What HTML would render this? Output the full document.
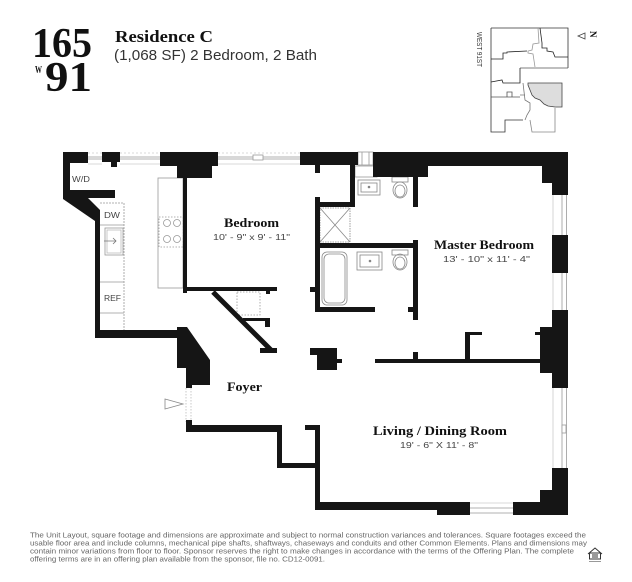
<!DOCTYPE html>
<html><head><meta charset="utf-8"><style>
html,body{margin:0;padding:0;background:#fff;}
svg{display:block;}
</style></head><body>
<svg width="632" height="582" viewBox="0 0 632 582" xmlns="http://www.w3.org/2000/svg">
<rect width="632" height="582" fill="#fff"/>

<!-- Logo -->
<g font-family="'Liberation Serif',serif" font-weight="bold" fill="#111">
<text x="32" y="57" font-size="42" textLength="60" lengthAdjust="spacingAndGlyphs">165</text>
<text x="45" y="91" font-size="42" textLength="47" lengthAdjust="spacingAndGlyphs">91</text>
<text x="35" y="73" font-size="11" textLength="7" lengthAdjust="spacingAndGlyphs">W</text>
<text x="115" y="42" font-size="17" textLength="98" lengthAdjust="spacingAndGlyphs">Residence C</text>
</g>
<text x="114" y="60" font-family="'Liberation Sans',sans-serif" font-size="15" fill="#333" textLength="203" lengthAdjust="spacingAndGlyphs">(1,068 SF) 2 Bedroom, 2 Bath</text>

<!-- Key map -->
<g fill="none" stroke-width="0.8">
<path d="M491,28 H568 V68" stroke="#333"/>
<path d="M491,28 V132 H505 V120 H523" stroke="#333"/>
<path d="M538,28 L539,43 L533,44 L532,50 L528,51 L528,53 L533,54 L535,67" stroke="#999"/>
<path d="M491,59 H503 V53 H507 V52 L527,51" stroke="#222"/>
<path d="M540,28 L542,43 V48 H547 V51 L553,52 L555,57 H568" stroke="#222"/>
<path d="M520,68 H568" stroke="#555"/>
<path d="M520,68 V83 H503 L502,80 L491,82" stroke="#222"/>
<path d="M528,83 H562 V107 H555 L548,106 L544,104 L540,100 L535,98 L532,95 L530,90 L528,85 Z" fill="#ddd" stroke="#444"/>
<path d="M491,97 H520 M507,97 V92 H512 V97" stroke="#555"/>
<path d="M520,95 H525 M523,83 L525,100 L530,103 V110 L527,115 L525,120" stroke="#777"/>
<path d="M530,120 L532,132 H555 V108" stroke="#888"/>
</g>
<text transform="translate(477,32) rotate(90)" font-family="'Liberation Sans',sans-serif" font-size="7" fill="#333" textLength="35" lengthAdjust="spacingAndGlyphs">WEST 91ST</text>
<polygon points="578,36 585,33 585,39" fill="none" stroke="#444" stroke-width="0.8"/>
<text transform="translate(590,31) rotate(90)" font-family="'Liberation Serif',serif" font-weight="bold" font-size="9" fill="#111">N</text>

<!-- Windows (gray lines) -->
<g stroke="#999" stroke-width="0.8" fill="none">
<path d="M88,153 H102 M120,153 H160 M218,153 H300" stroke="#ccc" stroke-dasharray="2,2"/>
<path d="M88,157 H102 M120,157 H160 M218,157 H300"/>
<path d="M88,159 H102 M120,159 H160 M218,159 H300"/>
<path d="M88,164 H102 M120,164 H160 M218,164 H300" stroke="#ccc"/>
<rect x="253" y="155" width="10" height="5" fill="#fff"/>
<rect x="358" y="152" width="15" height="13"/>
<path d="M362,152 V165 M369,152 V165"/>
<rect x="355" y="166" width="22" height="11"/>
<path d="M553,195 V235 M553,273 V310 M553,388 V468" stroke="#ccc"/>
<path d="M562,195 V235 M562,273 V310 M562,388 V468"/>
<path d="M566.5,195 V235 M566.5,273 V310 M566.5,388 V468"/>
<rect x="562" y="425" width="4" height="8" fill="#fff"/>
<path d="M470,503 H513" stroke="#ccc"/>
<path d="M470,508 H513 M470,513 H513"/>
</g>

<!-- Kitchen -->
<g stroke="#999" stroke-width="0.8" fill="none">
<path d="M100,203 H124 V330" stroke-dasharray="2,1"/>
<path d="M100,225 H124 M100,282 H124 M100,313 H124"/>
<rect x="105" y="228" width="18" height="27"/>
<rect x="107" y="230" width="14" height="23" stroke="#bbb"/>
<path d="M104,241 H116 M113,238 L116,241 L113,244" stroke="#777"/>
<rect x="158" y="178" width="25" height="110"/>
<rect x="159" y="217" width="24" height="30" stroke-dasharray="1.5,1.5"/>
<circle cx="167" cy="223" r="3.5"/>
<circle cx="177" cy="223" r="3.5"/>
<circle cx="167" cy="239" r="3.5"/>
<circle cx="177" cy="239" r="3.5"/>
<rect x="237" y="292" width="23" height="23" stroke-dasharray="1.5,1.5"/>
<!-- entry -->
<polygon points="165,399 183,404 165,409" stroke="#888"/>
<path d="M186,388 V422 M191,388 V422" stroke="#bbb" stroke-dasharray="1.5,1.5"/>
</g>

<!-- Bath fixtures -->
<g stroke="#888" stroke-width="0.8" fill="none">
<rect x="320" y="208" width="30" height="34" stroke-dasharray="1.5,1"/>
<path d="M320,208 L350,242 M350,208 L320,242"/>
<rect x="358" y="180" width="22" height="15"/>
<rect x="361" y="183" width="16" height="9"/>
<circle cx="369" cy="187" r="0.9" fill="#777"/>
<rect x="392" y="177" width="16" height="5"/>
<ellipse cx="400" cy="190" rx="7" ry="8"/>
<ellipse cx="400" cy="191" rx="5" ry="6"/>
<rect x="322" y="252" width="25" height="53" rx="5"/>
<rect x="324" y="254" width="21" height="49" rx="5"/>
<rect x="357" y="252" width="25" height="18"/>
<rect x="360" y="255" width="19" height="12"/>
<circle cx="370" cy="261" r="0.9" fill="#777"/>
<rect x="392" y="250" width="16" height="5"/>
<ellipse cx="400" cy="262" rx="7" ry="8"/>
<ellipse cx="400" cy="263" rx="5" ry="6"/>
</g>

<!-- Walls -->
<g fill="#151515">
<polygon points="63,152 88,152 88,163 70,163 70,190 115,190 115,198 88,198 100,210 100,330 187,330 187,338 95,338 95,221 63,199"/>
<rect x="102" y="152" width="18" height="10"/>
<rect x="111" y="162" width="6" height="5"/>
<polygon points="160,152 218,152 218,166 212,166 212,178 177,178 177,166 160,166"/>
<rect x="300" y="152" width="58" height="13"/>
<rect x="315" y="165" width="5" height="8"/>
<polygon points="373,152 568,152 568,195 552,195 552,183 542,183 542,166 428,166 428,177 373,177"/>
<rect x="350" y="165" width="5" height="42"/>
<rect x="315" y="202" width="40" height="5"/>
<rect x="315" y="197" width="5" height="115"/>
<rect x="310" y="287" width="5" height="5"/>
<rect x="315" y="243" width="103" height="5"/>
<rect x="413" y="175" width="5" height="32"/>
<rect x="413" y="240" width="5" height="80"/>
<rect x="408" y="307" width="5" height="5"/>
<rect x="315" y="307" width="60" height="5"/>
<rect x="413" y="352" width="5" height="8"/>
<rect x="375" y="359" width="165" height="4"/>
<rect x="465" y="332" width="5" height="27"/>
<rect x="465" y="332" width="17" height="3"/>
<rect x="535" y="332" width="17" height="3"/>
<rect x="552" y="235" width="16" height="38"/>
<polygon points="552,310 568,310 568,388 552,388 552,373 540,373 540,327 552,327"/>
<polygon points="552,468 568,468 568,515 513,515 513,502 540,502 540,490 552,490"/>
<rect x="315" y="502" width="155" height="8"/>
<rect x="437" y="502" width="33" height="13"/>
<rect x="315" y="425" width="5" height="85"/>
<rect x="305" y="425" width="15" height="5"/>
<rect x="277" y="463" width="43" height="5"/>
<rect x="277" y="427" width="5" height="41"/>
<rect x="186" y="425" width="96" height="7"/>
<rect x="186" y="420" width="6" height="12"/>
<polygon points="177,327 187,327 210,360 210,385 192,385 192,388 186,388 186,368 177,368"/>
<polygon points="310,348 337,348 337,359 342,359 342,363 337,363 337,370 317,370 317,355 310,355"/>
<rect x="183" y="178" width="4" height="115"/>
<rect x="183" y="287" width="94" height="4"/>
<rect x="266" y="291" width="4" height="3"/>
<line x1="213" y1="292" x2="271" y2="350" stroke="#151515" stroke-width="5"/>
<rect x="243" y="318" width="27" height="3"/>
<rect x="265" y="318" width="5" height="9"/>
<rect x="260" y="348" width="17" height="5"/>
</g>

<!-- Labels -->
<g font-family="'Liberation Serif',serif" font-weight="bold" fill="#111" font-size="13">
<text x="224" y="227" textLength="55" lengthAdjust="spacingAndGlyphs">Bedroom</text>
<text x="434" y="249" textLength="100" lengthAdjust="spacingAndGlyphs">Master Bedroom</text>
<text x="227" y="391" textLength="35" lengthAdjust="spacingAndGlyphs">Foyer</text>
<text x="373" y="435" textLength="134" lengthAdjust="spacingAndGlyphs">Living / Dining Room</text>
</g>
<g font-family="'Liberation Sans',sans-serif" fill="#444" font-size="8.5">
<text x="213" y="240" textLength="77" lengthAdjust="spacingAndGlyphs">10' - 9" x 9' - 11"</text>
<text x="443" y="262" textLength="87" lengthAdjust="spacingAndGlyphs">13' - 10" x 11' - 4"</text>
<text x="400" y="448" textLength="78" lengthAdjust="spacingAndGlyphs">19' - 6" X 11' - 8"</text>
<text x="72" y="182" textLength="18" lengthAdjust="spacingAndGlyphs">W/D</text>
<text x="104" y="218" textLength="16" lengthAdjust="spacingAndGlyphs">DW</text>
<text x="104" y="301" textLength="17" lengthAdjust="spacingAndGlyphs">REF</text>
</g>

<!-- Footer -->
<g font-family="'Liberation Sans',sans-serif" fill="#666" font-size="7">
<text x="30" y="537.5" textLength="556" lengthAdjust="spacingAndGlyphs">The Unit Layout, square footage and dimensions are approximate and subject to normal construction variances and tolerances. Square footages exceed the</text>
<text x="30" y="545.5" textLength="557" lengthAdjust="spacingAndGlyphs">usable floor area and include columns, mechanical pipe shafts, shaftways, chaseways and conduits and other Common Elements. Plans and dimensions may</text>
<text x="30" y="553.5" textLength="544" lengthAdjust="spacingAndGlyphs">contain minor variations from floor to floor. Sponsor reserves the right to make changes in accordance with the terms of the Offering Plan. The complete</text>
<text x="30" y="561.5" textLength="295" lengthAdjust="spacingAndGlyphs">offering terms are in an offering plan available from the sponsor, file no. CD12-0091.</text>
</g>
<g stroke="#333" stroke-width="1" fill="none">
<polyline points="588,554 595,548 602,554"/>
<rect x="589.5" y="553" width="11" height="6"/>
<path d="M592,555 H598 M592,557 H598"/>
</g>
<rect x="589" y="561" width="12" height="1" fill="#999"/>
</svg>
</body></html>
